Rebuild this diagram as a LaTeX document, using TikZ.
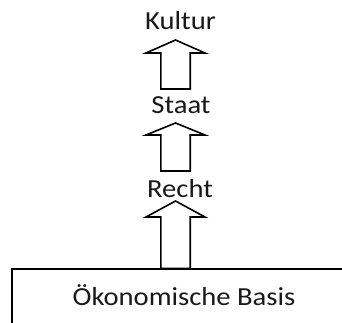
\documentclass[tikz,border=0pt]{standalone}
\usepackage{fontspec}
\setmainfont{Carlito}
\newcommand{\widetext}[1]{\scalebox{1.1}[1]{#1}}
\begin{document}
\begin{tikzpicture}[x=1pt,y=-1pt,
  label/.style={inner sep=0pt,anchor=base,font=\fontsize{26}{30}\selectfont,text=black!90},
  blockarrow/.style={draw=black,line width=1.6pt,line join=miter,fill=white},
  basebox/.style={draw=black,line width=1.8pt}]
\useasboundingbox (0,0) rectangle (342,322);

% levels of the superstructure
\node[label] (kultur) at (180.5,29) {\widetext{Kultur}};
\node[label] (staat)  at (181,113) {\widetext{Staat}};
\node[label] (recht)  at (180,197) {\widetext{Recht}};

% economic base, running off the right and lower edge
\coordinate (bl) at (12,330);
\coordinate (tl) at (12,269);
\coordinate (tr) at (350,269);
\draw[basebox] (bl) -- (tl) -- (tr);
\node[label] (basis) at (184,305) {\widetext{Ökonomische Basis}};

% hollow block arrows: tip, head base, shaft end
\newcommand{\upblock}[4]{%
  \draw[blockarrow] (#1-14.7,#4) -- (#1-14.7,#3) -- (#1-29.5,#3) -- (#1,#2)
    -- (#1+29.5,#3) -- (#1+14.7,#3) -- (#1+14.7,#4) -- cycle;}
\upblock{175.5}{40}{53}{89}
\upblock{175.5}{123}{135}{171}
\upblock{175.5}{201}{217}{268.5}
\end{tikzpicture}
\end{document}
